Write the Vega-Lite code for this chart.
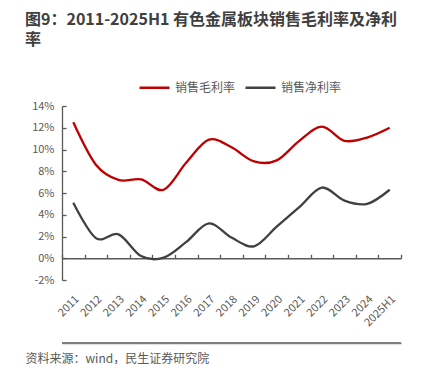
{
  "$schema": "https://vega.github.io/schema/vega-lite/v6.json",
  "width": 339,
  "height": 174,
  "autosize": "none",
  "padding": {"left": 62, "top": 106, "right": 36, "bottom": 102},
  "background": "white",
  "title": {
    "text": ["图9：2011-2025H1 有色金属板块销售毛利率及净利", "率"],
    "anchor": "start",
    "frame": "group",
    "dx": -37,
    "font": "Noto Sans CJK SC",
    "fontSize": 16,
    "fontWeight": "bold",
    "color": "#404040",
    "lineHeight": 20,
    "offset": 23
  },
  "data": {
    "values": [
      {"year": "2011", "gross": 12.5, "net": 5.1},
      {"year": "2012", "gross": 8.6, "net": 1.85},
      {"year": "2013", "gross": 7.2, "net": 2.2},
      {"year": "2014", "gross": 7.25, "net": 0.2},
      {"year": "2015", "gross": 6.3, "net": 0.05},
      {"year": "2016", "gross": 8.8, "net": 1.5},
      {"year": "2017", "gross": 10.9, "net": 3.2},
      {"year": "2018", "gross": 10.2, "net": 1.9},
      {"year": "2019", "gross": 8.9, "net": 1.1},
      {"year": "2020", "gross": 9.0, "net": 2.9},
      {"year": "2021", "gross": 10.8, "net": 4.7},
      {"year": "2022", "gross": 12.1, "net": 6.5},
      {"year": "2023", "gross": 10.8, "net": 5.3},
      {"year": "2024", "gross": 11.1, "net": 5.0},
      {"year": "2025H1", "gross": 12.0, "net": 6.3}
    ]
  },
  "encoding": {
    "y": {
      "type": "quantitative",
      "scale": {"domain": [-2, 14]},
      "axis": {
        "title": null,
        "values": [-2, 0, 2, 4, 6, 8, 10, 12, 14],
        "labelExpr": "datum.value + '%'",
        "grid": false,
        "domain": true,
        "domainColor": "#595959",
        "domainWidth": 1.3,
        "ticks": true,
        "tickColor": "#595959",
        "tickWidth": 1.3,
        "tickSize": -4,
        "labelPadding": 12,
        "labelFontSize": 11,
        "labelColor": "#595959",
        "labelFont": "Noto Sans CJK SC"
      }
    }
  },
  "layer": [
    {
      "mark": {"type": "line", "interpolate": "cardinal", "strokeWidth": 2.3},
      "encoding": {
        "x": {
          "field": "year",
          "type": "ordinal",
          "bandPosition": 0.5,
          "scale": {"type": "band", "paddingInner": 0, "paddingOuter": 0},
          "axis": {
            "orient": "bottom",
            "offset": 63,
            "domain": true,
            "domainColor": "#7f7f7f",
            "domainWidth": 1.5,
            "ticks": false,
            "grid": false,
            "labelAngle": -45,
            "labelPadding": -50,
            "labelFontSize": 11,
            "labelColor": "#595959",
            "labelFont": "Noto Sans CJK SC",
            "title": "资料来源：wind，民生证券研究院",
            "titleX": -37,
            "titleY": 10,
            "titleAlign": "left",
            "titleAnchor": "start",
            "titleBaseline": "top",
            "titleFont": "Noto Sans CJK SC",
            "titleFontSize": 12,
            "titleFontWeight": "normal",
            "titleColor": "#595959"
          }
        },
        "y": {"field": "gross"},
        "color": {"datum": "销售毛利率", "type": "nominal"}
      }
    },
    {
      "mark": {"type": "line", "interpolate": "cardinal", "strokeWidth": 2.3},
      "encoding": {
        "x": {
          "field": "year",
          "type": "ordinal",
          "bandPosition": 0.5,
          "scale": {"type": "band", "paddingInner": 0, "paddingOuter": 0},
          "axis": {
            "orient": "top",
            "offset": -152.25,
            "labels": false,
            "title": null,
            "grid": false,
            "domain": true,
            "domainColor": "#595959",
            "domainWidth": 1.3,
            "tickColor": "#595959",
            "tickWidth": 1.3,
            "tickSize": 4,
            "tickBand": "extent"
          }
        },
        "y": {"field": "net"},
        "color": {"datum": "销售净利率", "type": "nominal"}
      }
    },
    {
      "mark": {"type": "rule", "color": "#7f7f7f", "strokeWidth": 1.5, "clip": false},
      "encoding": {
        "y": {"datum": -7.8}
      }
    }
  ],
  "resolve": {"axis": {"x": "independent"}},
  "config": {
    "view": {"stroke": null},
    "range": {"category": ["#C00000", "#404040"]},
    "legend": {
      "orient": "none",
      "legendX": 76,
      "legendY": -35,
      "direction": "horizontal",
      "title": null,
      "symbolType": "stroke",
      "symbolSize": 900,
      "symbolStrokeWidth": 2.5,
      "labelFont": "Noto Sans CJK SC",
      "labelFontSize": 12,
      "labelColor": "#595959",
      "labelOffset": 4,
      "columnPadding": 4
    }
  }
}
